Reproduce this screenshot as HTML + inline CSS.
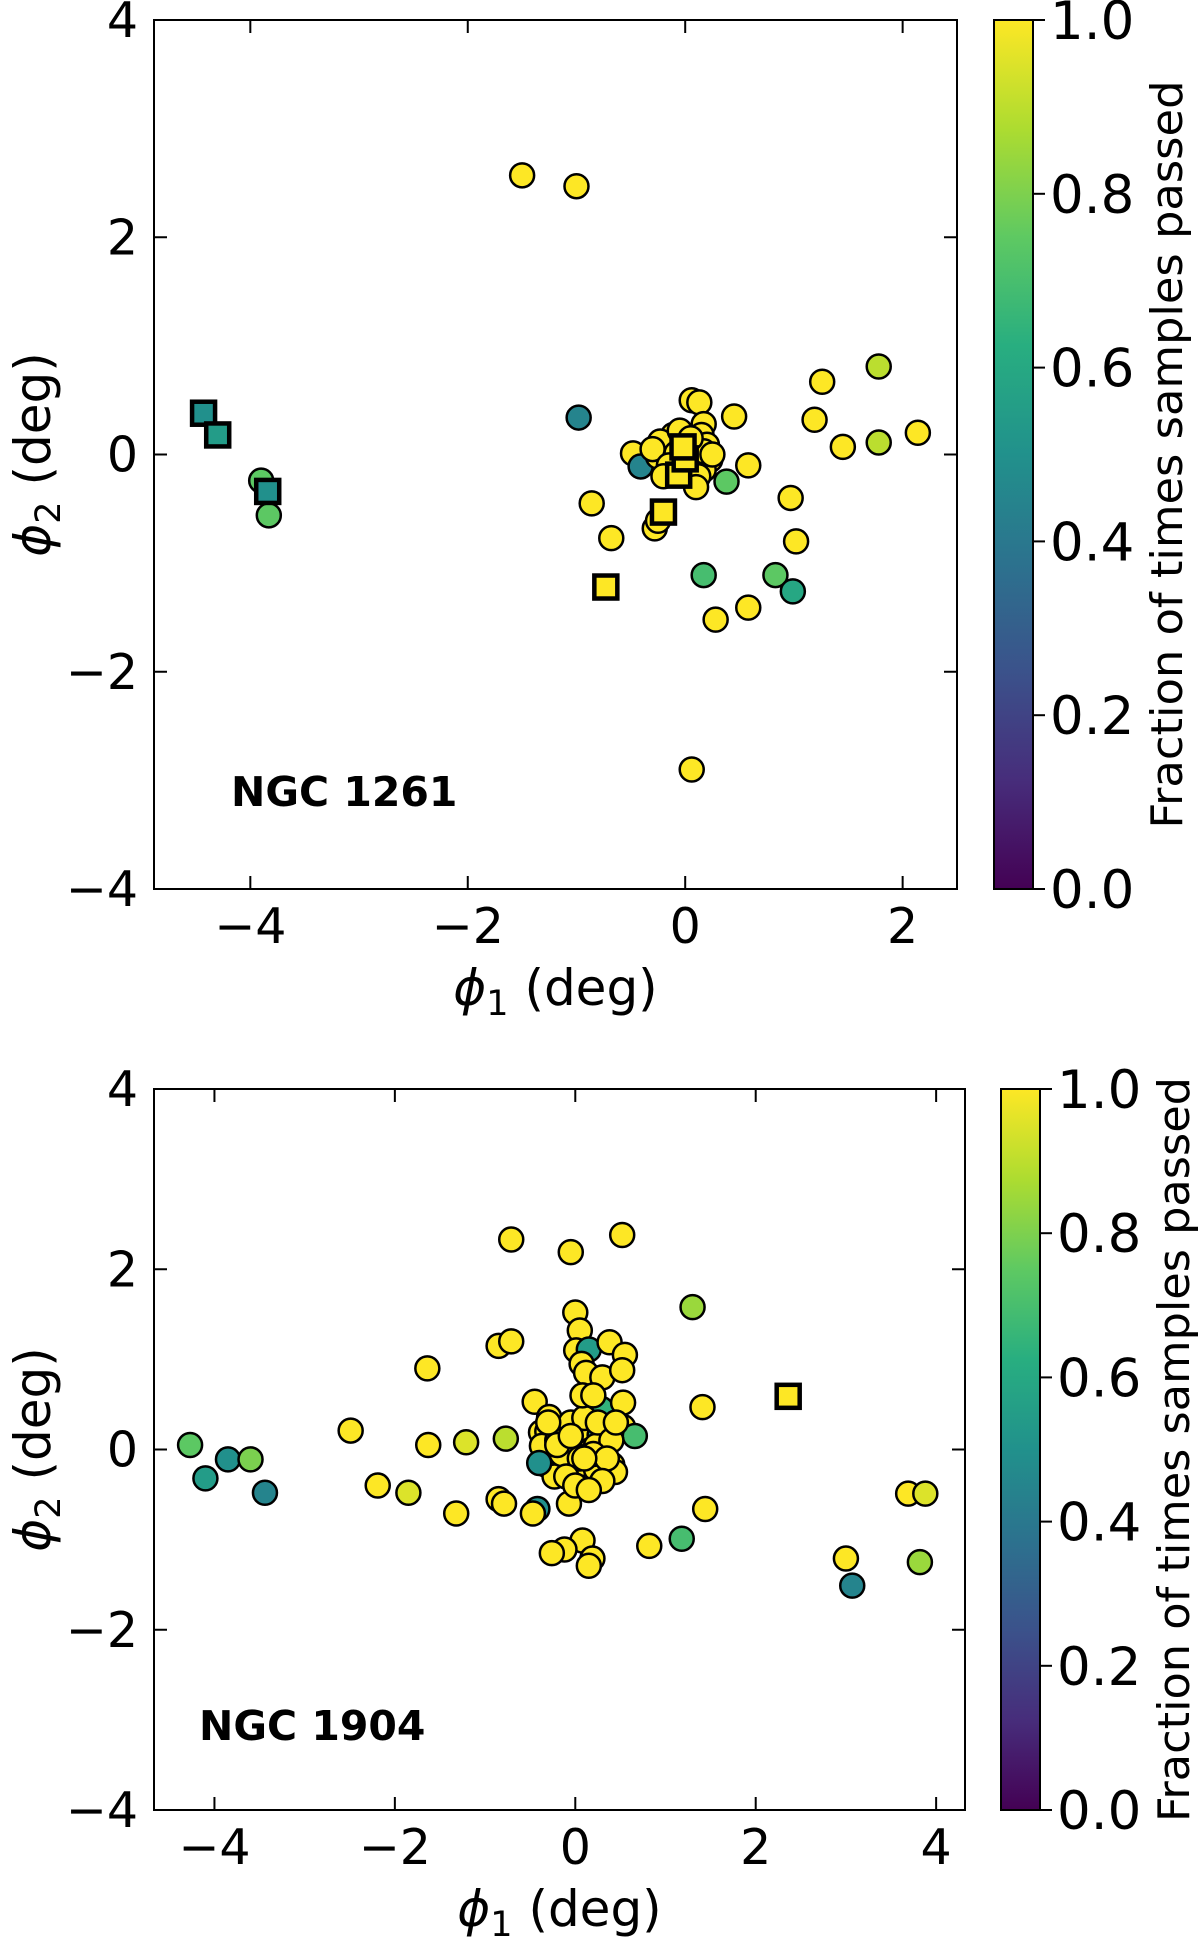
<!DOCTYPE html>
<html><head><meta charset="utf-8"><style>
html,body{margin:0;padding:0;background:#fff}
svg{display:block;font-family:"DejaVu Sans","Liberation Sans",sans-serif}
</style></head><body>
<svg id="fig" width="1200" height="1937" viewBox="0 0 1200 1937" xmlns="http://www.w3.org/2000/svg">
<defs>
<linearGradient id="vir" x1="0" y1="1" x2="0" y2="0">
<stop offset="0" stop-color="#440154"/><stop offset="0.125" stop-color="#472d7b"/><stop offset="0.25" stop-color="#3b528b"/><stop offset="0.375" stop-color="#2c728e"/><stop offset="0.5" stop-color="#21918c"/><stop offset="0.625" stop-color="#28ae80"/><stop offset="0.75" stop-color="#5ec962"/><stop offset="0.875" stop-color="#addc30"/><stop offset="1" stop-color="#fde725"/>
</linearGradient>
</defs>
</svg>
<script>
// ---- Panel 1: NGC 1261 ----
const p1CircX = [-1.5,-1.0,-0.98,-3.9,-3.83,1.26,1.78,1.19,1.45,1.78,2.14,0.45,0.58,0.38,0.97,1.02,0.17,0.83,0.99,0.58,0.28,0.06,-0.86,-0.68,-0.28,-0.25,-0.48,-0.41,0.06,0.13,0.17,0.15,0.2,0.23,0.17,0.09,0.01,-0.17,-0.11,-0.25,-0.23,-0.08,0.07,0.17,-0.3,-0.05,0.12,0.25,0.1,-0.15,0.05,-0.2];
const p1CircY = [2.57,2.47,0.34,-0.24,-0.56,0.67,0.81,0.32,0.07,0.11,0.2,0.35,-0.1,-0.25,-0.4,-0.8,-1.11,-1.11,-1.26,-1.41,-1.52,-2.9,-0.45,-0.77,-0.68,-0.61,0.01,-0.11,0.5,0.48,0.28,0.18,0.09,-0.05,-0.14,-0.25,-0.14,0.09,0.18,-0.02,0.12,0.01,0.03,0.03,0.05,0.22,-0.2,0.0,-0.3,-0.1,0.15,-0.2];
const p1CircF = [1,1,0.45,0.75,0.75,1,0.9,1,1,0.9,1,1,1,0.75,1,1,0.7,0.75,0.6,1,1,1,1,1,1,1,1,0.45,1,1,1,1,1,1,1,1,1,1,1,1,1,1,1,1,1,1,1,1,1,1,1,1];
const p1SqX = [-4.43,-4.3,-3.84,-0.73,-0.2,-0.06,0.0,-0.02];
const p1SqY = [0.38,0.18,-0.34,-1.22,-0.53,-0.19,-0.04,0.07];
const p1SqF = [0.5,0.55,0.5,1,1,1,1,1];
// ---- Panel 2: NGC 1904 ----
const p2CircX = [-4.27,-4.1,-3.85,-3.6,-3.44,-2.49,-2.19,-1.85,-1.64,-1.63,
-1.21,-1.32,-0.77,-0.85,-0.71,-0.71,-0.05,0.52,1.3,1.41,
1.44,1.18,0.82,-0.85,-0.42,-0.47,-0.07,0.18,0.08,-0.12,
-0.26,0.19,0.15,0.0,0.05,0.01,0.15,0.38,0.55,0.07,
0.12,0.3,0.52,0.29,0.53,-0.45,-0.29,-0.38,-0.1,0.12,
0.53,0.66,0.27,-0.1,-0.23,-0.04,0.18,0.34,-0.32,0.04,
0.23,0.41,0.44,-0.23,-0.31,0.12,0.23,-0.37,-0.4,-0.79,
3.69,3.88,3.0,3.07,3.82,
-0.2,-0.05,0.1,0.25,0.4,-0.15,0.05,0.2,0.35,-0.3,-0.1,0.3,0.0,0.15,-0.2,0.45,0.08,-0.05,0.2,0.1];
const p2CircY = [0.05,-0.32,-0.11,-0.11,-0.48,0.21,-0.4,-0.48,0.9,0.05,
0.08,-0.71,0.12,1.15,1.2,2.33,2.19,2.38,1.58,0.47,
-0.66,-0.99,-1.07,-0.55,-0.66,-0.71,-0.6,-0.32,-1.01,-1.11,
-1.15,-1.21,-1.29,1.52,1.32,1.1,1.11,1.19,1.05,0.95,
0.85,0.8,0.88,0.45,0.52,0.53,0.36,0.19,0.21,0.21,
0.25,0.15,0.16,0.0,-0.08,0.05,0.0,0.08,-0.17,-0.17,
-0.22,-0.17,-0.25,-0.3,0.2,-0.08,0.04,0.04,-0.15,-0.6,
-0.49,-0.49,-1.21,-1.51,-1.25,
0.1,0.3,0.35,0.3,0.1,-0.05,-0.1,-0.05,-0.1,0.3,-0.3,-0.35,-0.4,-0.45,0.05,0.3,0.6,0.15,0.6,-0.1];
const p2CircF = [0.75,0.55,0.5,0.8,0.45,1,1,0.95,1,1,
0.95,1,0.9,1,1,1,1,1,0.85,1,
1,0.7,1,1,0.5,1,1,1,1,1,
1,1,1,1,1,1,0.55,1,1,1,
1,1,1,0.65,1,1,1,1,1,1,
1,0.7,0.55,1,1,1,1,1,1,1,
1,1,1,1,1,1,1,1,0.5,1,
1,0.95,1,0.45,0.85,
1,1,1,1,1,1,1,1,1,1,1,1,1,1,1,1,1,1,1,1];
const p2SqX = [2.36];
const p2SqY = [0.59];
const p2SqF = [1];
const xTicks1 = [-4,-2,0,2];
const xTicks2 = [-4,-2,0,2,4];
const yTicks = [-4,-2,0,2,4];
const cbTicks = [0.0,0.2,0.4,0.6,0.8,1.0];
const cbLabels = ["0.0","0.2","0.4","0.6","0.8","1.0"];

const NS="http://www.w3.org/2000/svg";
const svg=document.getElementById('fig');
const vir=[[68,1,84],[71,44,122],[59,81,139],[44,113,142],[33,144,140],[39,173,129],[92,200,99],[170,220,50],[253,231,37]];
function vcol(f){f=Math.max(0,Math.min(1,f));const t=f*8;const i=Math.min(7,Math.floor(t));const u=t-i;const a=vir[i],b=vir[i+1];
return 'rgb('+a.map((v,k)=>Math.round(v+(b[k]-v)*u)).join(',')+')';}
function mk(tag,at,parent){const e=document.createElementNS(NS,tag);for(const k in at)e.setAttribute(k,at[k]);(parent||svg).appendChild(e);return e;}

function panel(o){
  const g=mk('g',{});
  
  
  const sx=v=>o.L+(v-o.x0)/(o.x1-o.x0)*(o.R-o.L);
  const sy=v=>o.B-(v+4)/8*(o.B-o.T);
  const cg=mk('g',{},g);
  
  
  const n=Math.min(o.cx.length,o.cy.length,o.cf.length);
  for(let i=0;i<n;i++){
    const c=mk('circle',{cx:sx(o.cx[i]),cy:sy(o.cy[i]),r:12,fill:vcol(o.cf[i]),stroke:'#000','stroke-width':2.5},cg);
    
    
  }
  const sg=mk('g',{},g);
  
  
  for(let i=0;i<o.qx.length;i++){
    const s=mk('rect',{x:sx(o.qx[i])-11.5,y:sy(o.qy[i])-11.5,width:23,height:23,fill:vcol(o.qf[i]),stroke:'#000','stroke-width':4.5},sg);
    
    
  }
  const fr=mk('rect',{x:o.L,y:o.T,width:o.R-o.L,height:o.B-o.T,fill:'none',stroke:'#000','stroke-width':2},g);
  
  
  for(const t of o.xt){
    const x=sx(t);
    mk('line',{x1:x,y1:o.B,x2:x,y2:o.B-13,stroke:'#000','stroke-width':2},g);
    mk('line',{x1:x,y1:o.T,x2:x,y2:o.T+13,stroke:'#000','stroke-width':2},g);
    const tx=mk('text',{x:x,y:o.B+54,'font-size':49,'text-anchor':'middle'},g);
    tx.textContent=(t<0?'\u2212':'')+Math.abs(t);
    
    
  }
  for(const t of yTicks){
    const y=sy(t);
    mk('line',{x1:o.L,y1:y,x2:o.L+13,y2:y,stroke:'#000','stroke-width':2},g);
    mk('line',{x1:o.R,y1:y,x2:o.R-13,y2:y,stroke:'#000','stroke-width':2},g);
    const tx=mk('text',{x:o.L-16,y:y+17,'font-size':49,'text-anchor':'end'},g);
    tx.textContent=(t<0?'\u2212':'')+Math.abs(t);
    
    
  }
  const xl=mk('text',{x:(o.L+o.R)/2,y:o.B+116,'font-size':50,'text-anchor':'middle'},g);
  xl.innerHTML='<tspan font-style="italic">ϕ</tspan><tspan font-size="35" dy="10">1</tspan><tspan dy="-10"> (deg)</tspan>';
  
  
  const yl=mk('text',{x:0,y:0,'font-size':50,'text-anchor':'middle',transform:'translate(50,'+((o.T+o.B)/2)+') rotate(-90)'},g);
  yl.innerHTML='<tspan font-style="italic">ϕ</tspan><tspan font-size="35" dy="10">2</tspan><tspan dy="-10"> (deg)</tspan>';
  
  
  const nm=mk('text',{x:o.L+o.nx,y:o.ny,'font-size':41,'font-weight':'bold'},g);
  nm.textContent=o.title;
  
  
  const cb=mk('rect',{x:o.cbx,y:o.T,width:39,height:o.B-o.T,fill:'url(#vir)',stroke:'#000','stroke-width':2},g);
  
  
  for(let i=0;i<cbTicks.length;i++){
    const y=o.B-cbTicks[i]*(o.B-o.T);
    mk('line',{x1:o.cbx+39,y1:y,x2:o.cbx+51,y2:y,stroke:'#000','stroke-width':2},g);
    const tx=mk('text',{x:o.cbx+56,y:y+19,'font-size':53},g);
    tx.textContent=cbLabels[i];
    
    
  }
  const cl=mk('text',{x:0,y:0,'font-size':44,'text-anchor':'middle',textLength:o.cbLen,lengthAdjust:'spacingAndGlyphs',transform:'translate('+(o.cbx+188)+','+((o.T+o.B)/2)+') rotate(-90)'},g);
  cl.textContent='Fraction of times samples passed';
  
  
}
panel({name:'panel-ngc1261',L:154,R:957,T:20,B:889,x0:-4.886,x1:2.5,xt:xTicks1,cx:p1CircX,cy:p1CircY,cf:p1CircF,qx:p1SqX,qy:p1SqY,qf:p1SqF,cbx:994,cbLen:748,title:'NGC 1261',nx:77,ny:806});
panel({name:'panel-ngc1904',L:154,R:965,T:1089,B:1810,x0:-4.67,x1:4.32,xt:xTicks2,cx:p2CircX,cy:p2CircY,cf:p2CircF,qx:p2SqX,qy:p2SqY,qf:p2SqF,cbx:1001,cbLen:745,title:'NGC 1904',nx:45,ny:1740});
</script>
</body></html>
